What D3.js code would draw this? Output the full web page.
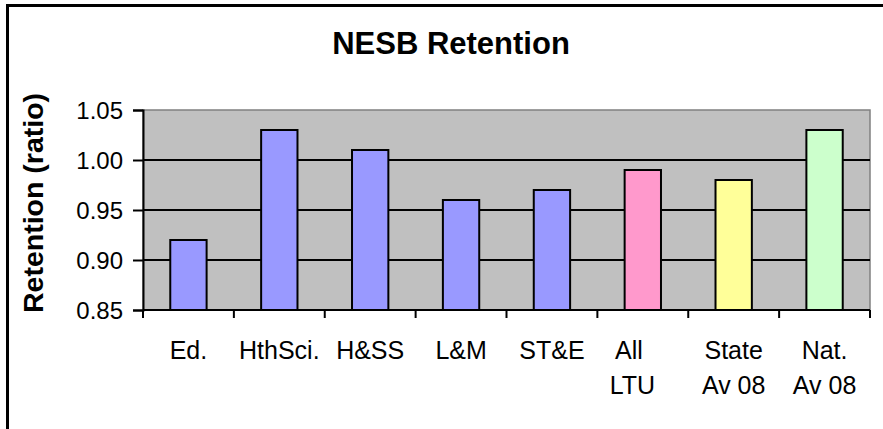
<!DOCTYPE html>
<html>
<head>
<meta charset="utf-8">
<script src="https://cdn.jsdelivr.net/npm/d3@7"></script>
<style>
  body { margin: 0; background: #fff; }
  text { font-family: Arial, "Liberation Sans", sans-serif; fill: #000; }
</style>
</head>
<body>
<div id="chart"></div>
<script>
// data
var categories = ["Ed.", "HthSci.", "H&SS", "L&M", "ST&E", "All LTU", "State Av 08", "Nat. Av 08"];
var labelLines = [["Ed."], ["HthSci."], ["H&SS"], ["L&M"], ["ST&E"], ["All    ", "LTU   "], ["State", "Av 08"], ["Nat.", "Av 08"]];
var values = [0.92, 1.03, 1.01, 0.96, 0.97, 0.99, 0.98, 1.03];
var barColors = ["#9999FF", "#9999FF", "#9999FF", "#9999FF", "#9999FF", "#FF99CC", "#FFFF99", "#CCFFCC"];
var yTicks = [0.85, 0.90, 0.95, 1.00, 1.05];

var W = 883, H = 429;
var plot = {left: 143, top: 110, right: 870, bottom: 310};

var svg = d3.select("#chart").append("svg")
    .attr("width", W)
    .attr("height", H);

// outer frame (only left and top edges are in view)
svg.append("path")
    .attr("d", "M7.5," + H + "V5.5H" + W)
    .attr("fill", "none")
    .attr("stroke", "#000")
    .attr("stroke-width", 3);

var x = d3.scaleBand()
    .domain(categories)
    .range([plot.left, plot.right])
    .paddingInner(0.6)
    .paddingOuter(0.3);

var y = d3.scaleLinear()
    .domain([0.85, 1.05])
    .range([plot.bottom, plot.top]);

// plot background
svg.append("rect")
    .attr("x", plot.left)
    .attr("y", plot.top)
    .attr("width", plot.right - plot.left)
    .attr("height", plot.bottom - plot.top)
    .attr("fill", "#C0C0C0")
    .attr("stroke", "#808080")
    .attr("stroke-width", 1.5);

// gridlines
svg.append("g")
    .selectAll("line")
    .data(yTicks.slice(1, -1))
    .enter().append("line")
    .attr("x1", plot.left)
    .attr("x2", plot.right)
    .attr("y1", function(d) { return y(d); })
    .attr("y2", function(d) { return y(d); })
    .attr("stroke", "#000")
    .attr("stroke-width", 2);

// bars
svg.append("g")
    .selectAll("rect")
    .data(values)
    .enter().append("rect")
    .attr("x", function(d, i) { return x(categories[i]); })
    .attr("y", function(d) { return y(d); })
    .attr("width", x.bandwidth())
    .attr("height", function(d) { return y(0.85) - y(d); })
    .attr("fill", function(d, i) { return barColors[i]; })
    .attr("stroke", "#000")
    .attr("stroke-width", 2);

// y axis
var yAxis = svg.append("g")
    .attr("transform", "translate(" + plot.left + ",0)")
    .call(d3.axisLeft(y).tickValues(yTicks).tickFormat(d3.format(".2f")).tickSize(10).tickPadding(10));
yAxis.select(".domain").attr("stroke", "#000").attr("stroke-width", 2);
yAxis.selectAll(".tick line").attr("stroke", "#000").attr("stroke-width", 2);
yAxis.selectAll(".tick text")
    .style("font-size", "24px")
    .attr("font-family", null)
    .attr("dy", "0.36em");

// x axis: ticks at category boundaries
var step = x.step();
var xAxisG = svg.append("g")
    .attr("transform", "translate(0," + plot.bottom + ")");
xAxisG.append("line")
    .attr("x1", plot.left)
    .attr("x2", plot.right)
    .attr("stroke", "#000")
    .attr("stroke-width", 2);
xAxisG.selectAll(".tk")
    .data(d3.range(categories.length + 1))
    .enter().append("line")
    .attr("class", "tk")
    .attr("x1", function(i) { return plot.left + i * step; })
    .attr("x2", function(i) { return plot.left + i * step; })
    .attr("y1", 0)
    .attr("y2", 8)
    .attr("stroke", "#000")
    .attr("stroke-width", 2);

var labels = svg.append("g")
    .selectAll("text")
    .data(categories)
    .enter().append("text")
    .attr("text-anchor", "middle")
    .style("font-size", "25px")
    .style("white-space", "pre")
    .attr("transform", function(d) { return "translate(" + (x(d) + x.bandwidth() / 2) + ",359) scale(1,1.06)"; });

labels.selectAll("tspan")
    .data(function(d, i) { return labelLines[i]; })
    .enter().append("tspan")
    .attr("x", 0)
    .attr("y", function(d, j) { return j * 33; })
    .text(function(d) { return d; });

// title
svg.append("text")
    .attr("x", 451)
    .attr("y", 54)
    .attr("text-anchor", "middle")
    .style("font-size", "31px")
    .style("font-weight", "bold")
    .text("NESB Retention");

// y axis title
svg.append("text")
    .attr("transform", "translate(43,203) rotate(-90)")
    .attr("text-anchor", "middle")
    .style("font-size", "28.5px")
    .style("font-weight", "bold")
    .text("Retention (ratio)");
</script>
</body>
</html>
